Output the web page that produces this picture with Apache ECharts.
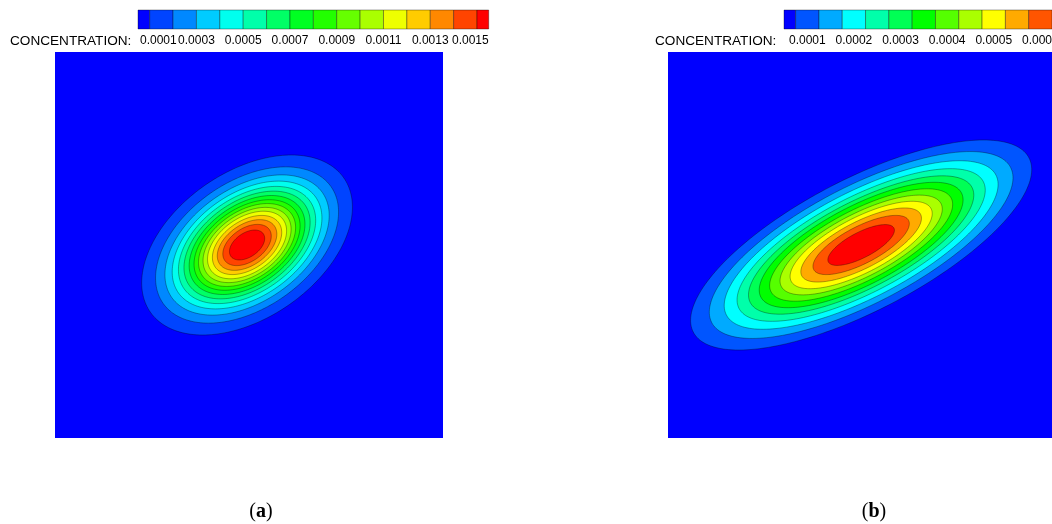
<!DOCTYPE html>
<html><head><meta charset="utf-8">
<script src="https://cdn.jsdelivr.net/npm/echarts@6/dist/echarts.min.js"></script>
<style>html,body{margin:0;padding:0;background:#fff}#c{width:1052px;height:524px}</style>
</head><body><div id="c"></div>
<script>
// ---------------- data ----------------
// Panel (a): contour levels, band colours, tick values
const levelsA = [0.0001,0.0002,0.0003,0.0004,0.0005,0.0006,0.0007,0.0008,0.0009,0.0010,0.0011,0.0012,0.0013,0.0014,0.0015];
const colorsA = ['#0000ff','#0044ff','#0088ff','#00ccff','#00ffee','#00ffaa','#00ff66','#00ff22','#22ff00','#66ff00','#aaff00','#eeff00','#ffcc00','#ff8800','#ff4400','#ff0000'];
const ticksA = [0.0001,0.0003,0.0005,0.0007,0.0009,0.0011,0.0013,0.0015];
// contour ellipse of each level (domain units 0..100): centre, tilt (deg), semi-axes
const centerA = [49.5, 50.0];
const angleA = 35;
const majorA = [30.4,26.4,23.7,21.6,19.8,18.2,16.7,15.3,14.0,12.7,11.4,10.0,8.6,7.0,5.1];
const minorA = [18.9,16.4,14.7,13.4,12.3,11.3,10.4,9.5,8.7,7.9,7.1,6.2,5.3,4.3,3.1];

// Panel (b)
const levelsB = [0.000075,0.000125,0.000175,0.000225,0.000275,0.000325,0.000375,0.000425,0.000475,0.000525,0.000575,0.000625];
const colorsB = ['#0000ff','#0055ff','#00aaff','#00ffff','#00ffaa','#00ff55','#00ff00','#55ff00','#aaff00','#ffff00','#ffaa00','#ff5500','#ff0000'];
const ticksB = [0.0001,0.0002,0.0003,0.0004,0.0005,0.0006];
const centerB = [50.3, 50.0];
const angleB = 27.3;
const majorB = [49.2,43.8,39.5,35.8,32.5,29.4,26.4,23.4,20.5,17.4,13.9,9.6];
const minorB = [17.1,15.2,13.7,12.4,11.2,10.2,9.1,8.1,7.1,6.0,4.8,3.3];

const domainMax = 100;
const legendTitle = 'CONCENTRATION:';
// -----------------------------------------------------------------

const FONT = '12px "Liberation Sans", Arial, sans-serif';
const TITLE_FONT = '13.6px "Liberation Sans", Arial, sans-serif';
const mctx = document.createElement('canvas').getContext('2d');
mctx.font = FONT;
function textW(t){ return mctx.measureText(t).width; }

function fieldRenderer(center, angleDeg, major, minor, colors) {
  const th = angleDeg * Math.PI / 180, c = Math.cos(th), s = Math.sin(th);
  return function (params, api) {
    const k = api.value(0);
    if (k === 0) {
      const p0 = api.coord([0, 0]), p1 = api.coord([domainMax, domainMax]);
      return {type: 'rect', shape: {x: p0[0], y: p1[1], width: p1[0] - p0[0], height: p0[1] - p1[1]},
              style: {fill: colors[0]}};
    }
    const a = major[k - 1], b = minor[k - 1];
    const pts = [];
    const N = 200;
    for (let i = 0; i < N; i++) {
      const t = i / N * 2 * Math.PI;
      const u = a * Math.cos(t), v = b * Math.sin(t);
      pts.push(api.coord([center[0] + u * c - v * s, center[1] + u * s + v * c]));
    }
    return {type: 'polygon', shape: {points: pts},
            style: {fill: colors[k], stroke: 'rgba(0,0,0,0.55)', lineWidth: 0.6}};
  };
}

function barRenderer(levels, colors, min, max) {
  return function (params, api) {
    const i = api.value(0);
    const x0 = i === 0 ? min : levels[i - 1];
    const x1 = i === levels.length ? max : levels[i];
    if (x0 >= max) return null;
    const p0 = api.coord([x0, 0]), p1 = api.coord([Math.min(x1, max), 1]);
    return {type: 'rect', shape: {x: p0[0], y: p1[1], width: p1[0] - p0[0], height: p0[1] - p1[1]},
            style: {fill: colors[i], stroke: 'rgba(0,0,0,0.35)', lineWidth: 1}};
  };
}

function labelRenderer(min, max, clampRight) {
  return function (params, api) {
    const v = api.value(0);
    const txt = v.toFixed(4);
    const p = api.coord([v, 0]);
    const left = api.coord([min, 0])[0], right = api.coord([max, 0])[0];
    const w = textW(txt);
    let x = p[0] - w / 2;
    if (x < left + 2) x = left + 2;
    if (clampRight && x + w > right) x = right - w;
    return {type: 'text', x: x, y: p[1] + 12,
            style: {text: txt, font: FONT, fill: '#000', align: 'left', verticalAlign: 'middle'}};
  };
}

const idx = n => Array.from({length: n}, (_, i) => [i]);

const minA = 0.00005, maxA = 0.00155;
const minB = 0.00005, maxB = 0.000625;

const hiddenAxis = (gi, min, max) => ({gridIndex: gi, type: 'value', min: min, max: max, show: false,
  splitLine: {show: false}, axisLine: {show: false}, axisTick: {show: false}, axisLabel: {show: false}});

const option = {
  animation: false,
  backgroundColor: '#fff',
  grid: [
    {left: 55, top: 52, width: 388, height: 386},
    {left: 668, top: 52, width: 384, height: 386},
    {left: 138, top: 10, width: 350.7, height: 19},
    {left: 784, top: 10, width: 268, height: 19}
  ],
  xAxis: [hiddenAxis(0, 0, domainMax), hiddenAxis(1, 0, domainMax), hiddenAxis(2, minA, maxA), hiddenAxis(3, minB, maxB)],
  yAxis: [hiddenAxis(0, 0, domainMax), hiddenAxis(1, 0, domainMax), hiddenAxis(2, 0, 1), hiddenAxis(3, 0, 1)],
  series: [
    {type: 'custom', xAxisIndex: 0, yAxisIndex: 0, clip: true, data: idx(majorA.length + 1),
     renderItem: fieldRenderer(centerA, angleA, majorA, minorA, colorsA)},
    {type: 'custom', xAxisIndex: 1, yAxisIndex: 1, clip: true, data: idx(majorB.length + 1),
     renderItem: fieldRenderer(centerB, angleB, majorB, minorB, colorsB)},
    {type: 'custom', xAxisIndex: 2, yAxisIndex: 2, data: idx(colorsA.length),
     renderItem: barRenderer(levelsA, colorsA, minA, maxA)},
    {type: 'custom', xAxisIndex: 3, yAxisIndex: 3, data: idx(colorsB.length),
     renderItem: barRenderer(levelsB, colorsB, minB, maxB)},
    {type: 'custom', xAxisIndex: 2, yAxisIndex: 2, data: ticksA.map(v => [v]),
     renderItem: labelRenderer(minA, maxA, true)},
    {type: 'custom', xAxisIndex: 3, yAxisIndex: 3, data: ticksB.map(v => [v]),
     renderItem: labelRenderer(minB, maxB, false)}
  ],
  graphic: [
    {type: 'text', x: 10, y: 41, style: {text: legendTitle, font: TITLE_FONT, fill: '#000', verticalAlign: 'middle'}},
    {type: 'text', x: 655, y: 41, style: {text: legendTitle, font: TITLE_FONT, fill: '#000', verticalAlign: 'middle'}},
    {type: 'text', x: 261, y: 512, style: {
      text: '{n|(}{b|a}{n|)}', align: 'center', verticalAlign: 'middle',
      rich: {n: {font: '20px "Liberation Serif", "DejaVu Serif", serif', fill: '#000'},
             b: {font: 'bold 20px "Liberation Serif", "DejaVu Serif", serif', fill: '#000'}}}},
    {type: 'text', x: 874, y: 512, style: {
      text: '{n|(}{b|b}{n|)}', align: 'center', verticalAlign: 'middle',
      rich: {n: {font: '20px "Liberation Serif", "DejaVu Serif", serif', fill: '#000'},
             b: {font: 'bold 20px "Liberation Serif", "DejaVu Serif", serif', fill: '#000'}}}}
  ]
};

const chart = echarts.init(document.getElementById('c'), null, {renderer: 'canvas'});
chart.setOption(option);
</script></body></html>
